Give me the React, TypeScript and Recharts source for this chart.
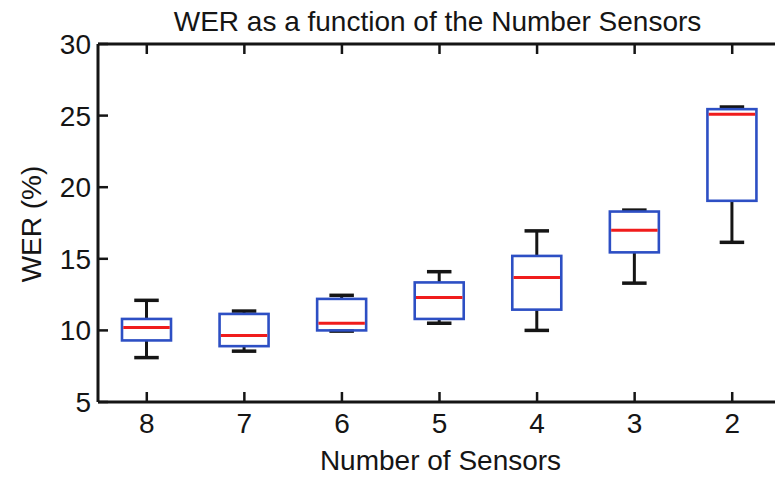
import { ComposedChart, Bar, XAxis, YAxis } from "recharts";

// WER (%) per sensor count
const categories = ["8", "7", "6", "5", "4", "3", "2"];
const whiskerLow = [8.1, 8.55, 9.95, 10.5, 10.0, 13.3, 16.15];
const quartile1 = [9.3, 8.9, 10.0, 10.8, 11.45, 15.45, 19.05];
const medians = [10.2, 9.65, 10.5, 12.3, 13.7, 17.0, 25.1];
const quartile3 = [10.8, 11.15, 12.2, 13.35, 15.2, 18.3, 25.45];
const whiskerHigh = [12.1, 11.35, 12.45, 14.1, 16.95, 18.4, 25.6];
const yTicks = [5, 10, 15, 20, 25, 30];

const TITLE = "WER as a function of the Number Sensors";
const X_LABEL = "Number of Sensors";
const Y_LABEL = "WER (%)";

const FONT = '"Liberation Sans", Arial, sans-serif';
const INK = "#151515";
const BOX = "#2d4fc4";
const MEDIAN = "#f01c1c";

const data = categories.map((name, i) => ({
  name,
  low: whiskerLow[i],
  q1: quartile1[i],
  median: medians[i],
  q3: quartile3[i],
  high: whiskerHigh[i],
}));

function BoxShape(props: any) {
  const { x, y, width, height, payload } = props;
  const { low, q1, median, q3, high } = payload;
  const top = Math.min(y, y + height);
  const bottom = Math.max(y, y + height);
  // map a value into the pixel span the bar scale gave us (high -> top, low -> bottom)
  const py = (v: number) => top + ((high - v) / (high - low)) * (bottom - top);
  const cx = x + width / 2;
  const cap = width / 4;
  return (
    <g>
      <line x1={cx} x2={cx} y1={py(high)} y2={py(q3)} stroke={INK} strokeWidth={3} />
      <line x1={cx} x2={cx} y1={py(q1)} y2={py(low)} stroke={INK} strokeWidth={3} />
      <line x1={cx - cap} x2={cx + cap} y1={py(high)} y2={py(high)} stroke={INK} strokeWidth={3.5} />
      <line x1={cx - cap} x2={cx + cap} y1={py(low)} y2={py(low)} stroke={INK} strokeWidth={3.5} />
      <rect
        x={x}
        y={py(q3)}
        width={width}
        height={py(q1) - py(q3)}
        fill="none"
        stroke={BOX}
        strokeWidth={2.6}
      />
      <line x1={x + 1.3} x2={x + width - 1.3} y1={py(median)} y2={py(median)} stroke={MEDIAN} strokeWidth={3} />
    </g>
  );
}

const tickLine = { stroke: INK, strokeWidth: 2.5 };

function LeftTick({ x, y, payload }: any) {
  return (
    <g>
      <line x1={x} x2={x + 10} y1={y} y2={y} {...tickLine} />
      <text x={x - 7} y={y} dy="0.36em" textAnchor="end" fontSize={28} fontFamily={FONT} fill={INK}>
        {payload.value}
      </text>
    </g>
  );
}

function RightTick({ x, y }: any) {
  return <line x1={x - 10} x2={x} y1={y} y2={y} {...tickLine} />;
}

function BottomTick({ x, y, payload }: any) {
  return (
    <g>
      <line x1={x} x2={x} y1={y} y2={y - 10} {...tickLine} />
      <text x={x} y={y + 31} textAnchor="middle" fontSize={28} fontFamily={FONT} fill={INK}>
        {payload.value}
      </text>
    </g>
  );
}

function TopTick({ x, y }: any) {
  return <line x1={x} x2={x} y1={y} y2={y + 10} {...tickLine} />;
}

export default function App() {
  return (
    <div
      style={{
        position: "absolute",
        left: 0,
        top: 0,
        width: 775,
        height: 479,
        overflow: "hidden",
        background: "#fff",
      }}
    >
      <ComposedChart width={800} height={479} data={data} margin={{ top: 0, right: 0, bottom: 0, left: 0 }}>
        <XAxis
          dataKey="name"
          height={77}
          tickSize={0}
          tickMargin={0}
          tick={BottomTick}
          tickLine={false}
          axisLine={{ stroke: INK, strokeWidth: 3 }}
          interval={0}
          label={{
            content: (p: any) => {
              const vb = p.viewBox;
              return (
                <text x={vb.x + vb.width / 2 + 1} y={470} textAnchor="middle" fontSize={28} fontFamily={FONT} fill={INK}>
                  {X_LABEL}
                </text>
              );
            },
          }}
        />
        <XAxis
          xAxisId="top"
          dataKey="name"
          orientation="top"
          height={44}
          tickSize={0}
          tickMargin={0}
          tick={TopTick}
          tickLine={false}
          axisLine={{ stroke: INK, strokeWidth: 3 }}
          interval={0}
          label={{
            content: (p: any) => {
              const vb = p.viewBox;
              return (
                <text x={vb.x + vb.width / 2 - 2} y={31} textAnchor="middle" fontSize={28} fontFamily={FONT} fill={INK}>
                  {TITLE}
                </text>
              );
            },
          }}
        />
        <YAxis
          domain={[5, 30]}
          ticks={yTicks}
          width={98}
          allowDataOverflow
          tickSize={0}
          tickMargin={0}
          tick={LeftTick}
          tickLine={false}
          axisLine={{ stroke: INK, strokeWidth: 3 }}
          interval={0}
          label={{
            content: () => (
              <text
                x={41}
                y={224}
                transform="rotate(-90 41 224)"
                textAnchor="middle"
                fontSize={28}
                fontFamily={FONT}
                fill={INK}
              >
                {Y_LABEL}
              </text>
            ),
          }}
        />
        <YAxis
          yAxisId="right"
          orientation="right"
          domain={[5, 30]}
          ticks={yTicks}
          width={19}
          tickSize={0}
          tickMargin={0}
          tick={RightTick}
          tickLine={false}
          axisLine={{ stroke: INK, strokeWidth: 3 }}
          interval={0}
        />
        <Bar
          dataKey={(d: any) => [d.low, d.high]}
          barSize={49}
          shape={BoxShape}
          isAnimationActive={false}
        />
      </ComposedChart>
    </div>
  );
}
